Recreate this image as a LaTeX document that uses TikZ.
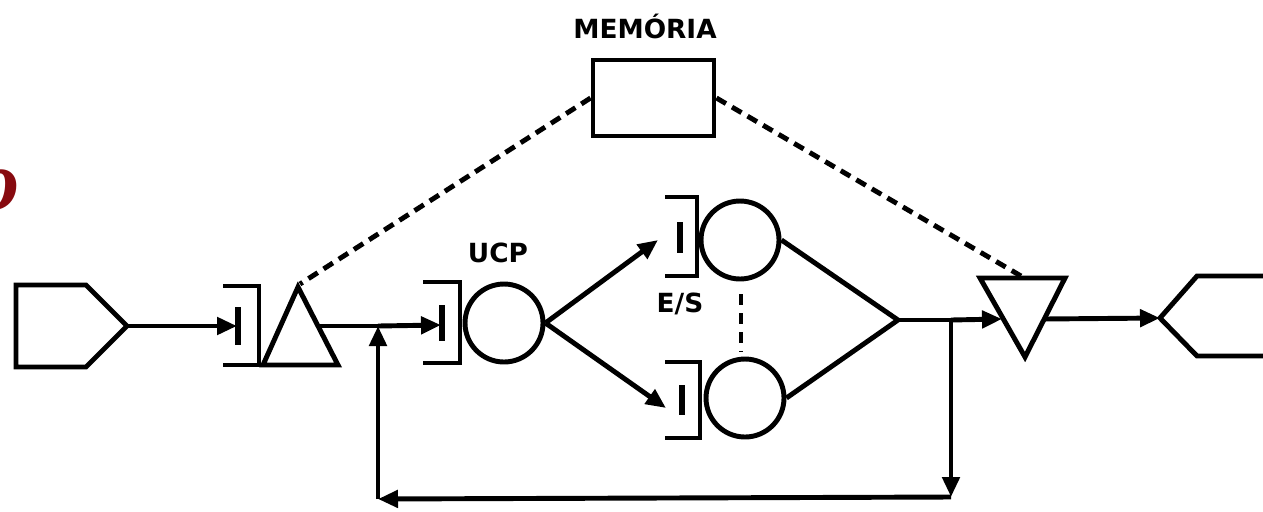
\documentclass[tikz,border=0pt]{standalone}
\usepackage{fontspec}
\setmainfont{DejaVu Sans}
\newfontfamily\lblfont{DejaVu Sans}
\newfontfamily\serifit{Liberation Serif}
\usetikzlibrary{arrows.meta}
\definecolor{redo}{RGB}{135,10,15}
\begin{document}
\begin{tikzpicture}[x=0.02cm,y=-0.02cm,
  ln/.style={line width=2.8pt, line join=miter},
  barline/.style={line width=3.2pt},
  arr/.style={line width=2.8pt, -{Triangle[length=0.4cm,width=0.34cm]}},
  dsh/.style={line width=2.8pt, dash pattern=on 0.22cm off 0.14cm},
  vdsh/.style={line width=2.6pt, dash pattern=on 0.22cm off 0.16cm},
  ring/.style={circle, draw, line width=2.8pt, inner sep=0pt, minimum size=1.56cm},
  lbl/.style={font=\lblfont\bfseries\fontsize{15}{16}\selectfont, inner sep=0pt}]
\useasboundingbox (0,0) rectangle (1263,511);

% red fragment at the left border
\node[text=redo, font=\serifit\bfseries\itshape\fontsize{48}{48}\selectfont, inner sep=0pt] (frag) at (-1,190) {o};

% labels
\node[lbl] (memlbl) at (645,26) {MEMÓRIA};
\node[lbl] (ucplbl) at (498,253) {UCP};
\node[lbl] (eslbl) at (680,304) {E/S};

% memory box
\node[draw, line width=2.8pt, minimum width=2.42cm, minimum height=1.52cm, inner sep=0pt] (mem) at (653.5,98) {};

% input pentagon
\draw[ln] (16,285) -- (86,285) -- (127,326) -- (86,367) -- (16,367) -- cycle;
\coordinate (in) at (127,326);

% first bracket, bar and triangle
\draw[ln] (223,286) -- (259,286) -- (259,365);
\draw[ln] (223,365) -- (338,365);
\draw[barline] (238,307) -- (238,345);
\coordinate (b1) at (237,326);
\draw[ln] (263,365) -- (298,287) -- (338,365) -- cycle;
\coordinate (t1top) at (300,284);
\coordinate (t1out) at (318,326);

% UCP
\draw[ln] (423,282) -- (460,282) -- (460,363) -- (423,363);
\draw[barline] (442,305) -- (442,341);
\coordinate (b2) at (441,325);
\node[ring] (ucp) at (504,323) {};
\coordinate (j1) at (378,326);

% E/S upper
\draw[ln] (665,197) -- (697,197) -- (697,276) -- (665,276);
\draw[barline] (680,222) -- (680,253);
\coordinate (b3) at (658,240);
\node[ring] (es1) at (740,240) {};

% E/S lower
\draw[ln] (665,362) -- (700,362) -- (700,438) -- (665,438);
\draw[barline] (682,385) -- (682,415);
\coordinate (b4) at (666,408);
\node[ring] (es2) at (745,398) {};

\coordinate (d1) at (741,294);
\coordinate (d2) at (741,352);
\draw[vdsh] (d1) -- (d2);

% join and output triangle
\coordinate (j2) at (898,320);
\coordinate (j3) at (951,320);
\coordinate (t2in) at (1002,319);
\draw[ln] (980,278) -- (1065,278) -- (1025,357) -- cycle;
\coordinate (t2top) at (1021,276);
\coordinate (t2out) at (1044,319);

% output pentagon (open at the border)
\draw[ln] (1275,276) -- (1197,276) -- (1160,318) -- (1197,356) -- (1275,356);
\coordinate (out) at (1160,318);

% feedback corners
\coordinate (c1) at (951,497);
\coordinate (c2) at (378,499);

% connectors
\draw[arr] (in) -- (b1);
\draw[ln] (t1out) -- (j1);
\draw[arr] (j1) -- (b2);
\draw[arr] (ucp.east) -- (b3);
\draw[arr] (ucp.east) -- (b4);
\draw[ln] (es1.east) -- (j2);
\draw[ln] (es2.east) -- (j2);
\draw[ln] (j2) -- (j3);
\draw[arr] (j3) -- (t2in);
\draw[arr] (t2out) -- (out);
\draw[arr] (j3) -- (c1);
\draw[arr] (c1) -- (c2);
\draw[arr] (c2) -- (j1);

% dashed memory links
\draw[dsh] (mem.west) -- (t1top);
\draw[dsh] (mem.east) -- (t2top);
\end{tikzpicture}
\end{document}
